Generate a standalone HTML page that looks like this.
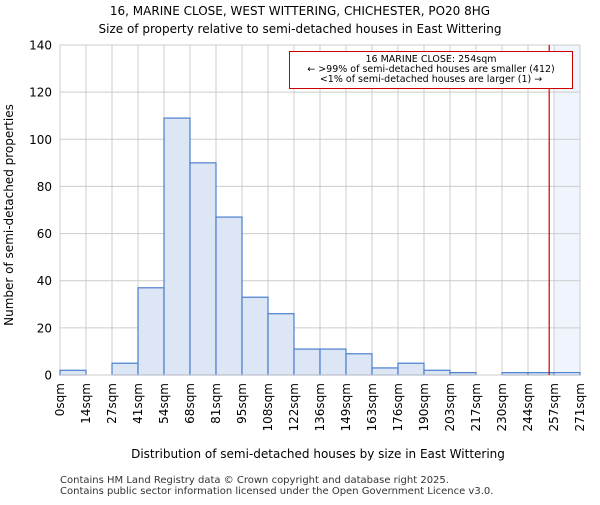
<!DOCTYPE html>
<html><head><meta charset="utf-8"><style>body{margin:0;background:#fff}svg{font-family:"DejaVu Sans","Liberation Sans",sans-serif}</style></head>
<body>
<svg id="c" width="600" height="500" xmlns="http://www.w3.org/2000/svg">
<text x="300" y="15" font-size="12" text-anchor="middle">16, MARINE CLOSE, WEST WITTERING, CHICHESTER, PO20 8HG</text>
<text x="300" y="33" font-size="12" text-anchor="middle">Size of property relative to semi-detached houses in East Wittering</text>
<g id="plot"></g>
<text x="318" y="458" font-size="12" text-anchor="middle">Distribution of semi-detached houses by size in East Wittering</text>
<text transform="translate(13,215) rotate(-90)" font-size="12" text-anchor="middle">Number of semi-detached properties</text>
<text x="60" y="483" font-size="10" fill="#333">Contains HM Land Registry data © Crown copyright and database right 2025.</text>
<text x="60" y="494" font-size="10" fill="#333">Contains public sector information licensed under the Open Government Licence v3.0.</text>
</svg>
<script>
const binLabels=["0sqm","14sqm","27sqm","41sqm","54sqm","68sqm","81sqm","95sqm","108sqm","122sqm","136sqm","149sqm","163sqm","176sqm","190sqm","203sqm","217sqm","230sqm","244sqm","257sqm","271sqm"];
const counts=[2,0,5,37,109,90,67,33,26,11,11,9,3,5,2,1,0,1,1,1];
const yTicks=[0,20,40,60,80,100,120,140];
const propertySize=254;
const binEdges=[0,13.5,27,40.5,54,67.5,81,94.5,108,121.5,135,148.5,162,175.5,189,202.5,216,229.5,243,256.5,270];
const NS="http://www.w3.org/2000/svg";
const L=60,R=580,T=45,B=375;
const nb=counts.length;
const xi=i=>L+(R-L)*i/nb;
const y=v=>B-(B-T)*v/140;
const xv=v=>{for(let i=0;i<binEdges.length-1;i++){if(v<=binEdges[i+1])return xi(i)+(v-binEdges[i])/(binEdges[i+1]-binEdges[i])*(xi(i+1)-xi(i));}return R;};
const g=document.getElementById('plot');
function mk(t,a){const e=document.createElementNS(NS,t);for(const k in a)e.setAttribute(k,a[k]);g.appendChild(e);return e;}
// highlight bin containing property
let hb=0;for(let i=0;i<nb;i++){if(propertySize>=binEdges[i])hb=i;}
let sh=mk('rect',{x:xi(hb+1),y:T,width:R-xi(hb+1),height:B-T,fill:'#f0f4fc'});


for(let i=0;i<=nb;i++){let l=mk('line',{x1:xi(i),x2:xi(i),y1:T,y2:B,stroke:'#ccc','stroke-width':1});

}
yTicks.forEach(v=>{let l=mk('line',{x1:L,x2:R,y1:y(v),y2:y(v),stroke:'#ccc','stroke-width':1});


let t=mk('text',{x:L-8,y:y(v)+4.5,'font-size':12,'text-anchor':'end'});t.textContent=v;

});
counts.forEach((c,i)=>{if(c<=0)return;let r=mk('rect',{x:xi(i),y:y(c),width:xi(i+1)-xi(i),height:B-y(c),fill:i>hb?'#f0f4fc':'#dde6f4',stroke:'#4a7fcf','stroke-width':1.2});

});
binLabels.forEach((s,i)=>{let t=mk('text',{transform:`translate(${xi(i)+4},${B+8}) rotate(-90)`,'font-size':12,'text-anchor':'end'});t.textContent=s;

});
let ax=mk('line',{x1:L,x2:R,y1:B,y2:B,stroke:'#ccc'});


let pl=mk('line',{x1:xv(propertySize),x2:xv(propertySize),y1:T,y2:B,stroke:'#c00','stroke-width':1.2});


let bx=mk('rect',{x:289.5,y:51.5,width:283,height:37,fill:'#fff',stroke:'#c00','stroke-width':1});


["16 MARINE CLOSE: 254sqm","← >99% of semi-detached houses are smaller (412)","<1% of semi-detached houses are larger (1) →"].forEach((s,i)=>{let t=mk('text',{x:431,y:62+i*10,'font-size':9.5,'text-anchor':'middle'});t.textContent=s;

});
</script>
</body></html>
